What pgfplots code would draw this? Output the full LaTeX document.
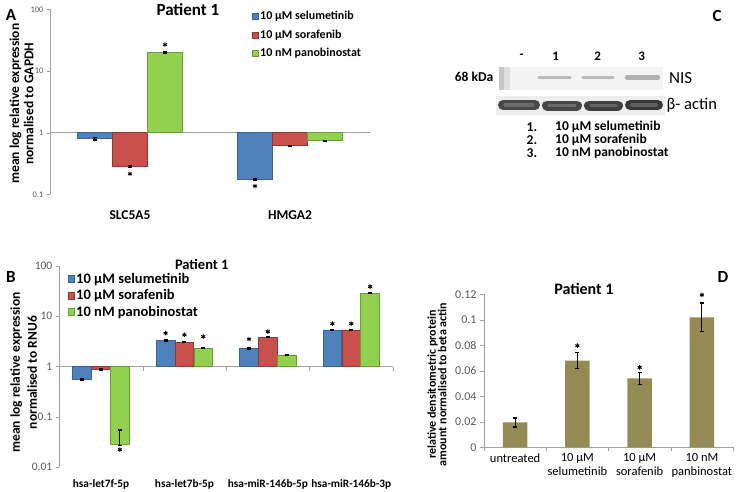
\documentclass[border=0pt]{standalone}
\usepackage{fontspec}
\setmainfont{Carlito}
\usepackage{pgfplots}
\pgfplotsset{compat=1.18}
\definecolor{blueF}{HTML}{4F81BD}
\definecolor{blueD}{HTML}{38629A}
\definecolor{redF}{HTML}{C9504D}
\definecolor{redD}{HTML}{8C3836}
\definecolor{greenF}{HTML}{92D050}
\definecolor{greenD}{HTML}{6A9E36}
\definecolor{oliveF}{HTML}{948A54}
\definecolor{axgray}{HTML}{A0A0A0}
\definecolor{tickgray}{HTML}{595959}
\pgfplotsset{
  errstyle/.style={error bars/.cd, y dir=both, y explicit,
    error bar style={black, line width=1pt},
    error mark options={black, rotate=90, mark size=2pt, line width=1.2pt}},
  stars/.style={only marks, mark=asterisk, mark size=2.3pt, line width=0.9pt, black, forget plot},
}
\begin{document}
\begin{tikzpicture}
\path[use as bounding box] (0,0) rectangle (742pt,491pt);

% ---------- overlay: panel letters and western blot (panel C) ----------
\begin{axis}[at={(0pt,0pt)}, anchor=south west, width=742pt, height=491pt, scale only axis,
  xmin=0, xmax=742, ymin=0, ymax=491, y dir=reverse, hide axis, clip=false]
\node[font=\bfseries\fontsize{17}{18}\selectfont] at (axis cs:11,15) {A};
\node[font=\bfseries\fontsize{17}{18}\selectfont] at (axis cs:11,277) {B};
\node[font=\bfseries\fontsize{17}{18}\selectfont] at (axis cs:717,16) {C};
\node[font=\bfseries\fontsize{17}{18}\selectfont] at (axis cs:723,277) {D};
% NIS blot
\addplot[fill=gray!9, draw=none, forget plot] coordinates {(499,67) (663,67) (663,90) (499,90)} -- cycle;
\addplot[fill=gray!45, draw=none, forget plot] coordinates {(499,67) (504,67) (504,90) (499,90)} -- cycle;
\addplot[fill=gray!25, draw=none, forget plot] coordinates {(504,67) (510,67) (510,90) (504,90)} -- cycle;
\addplot[line width=3.2pt, line cap=round, color=gray!55, forget plot] coordinates {(539,77.5) (570,77.5)};
\addplot[line width=3.2pt, line cap=round, color=gray!55, forget plot] coordinates {(583,77.5) (613,77.5)};
\addplot[line width=4.5pt, line cap=round, color=gray!62, forget plot] coordinates {(627,77.5) (658,77.5)};
% actin blot
\addplot[fill=gray!14, draw=none, forget plot] coordinates {(496,96) (665,96) (665,115) (496,115)} -- cycle;
\addplot[line width=10pt, line cap=round, color=black!72, forget plot] coordinates {(503,105) (535,105)};
\addplot[line width=10pt, line cap=round, color=black!72, forget plot] coordinates {(547,105.5) (577,105.5)};
\addplot[line width=10pt, line cap=round, color=black!75, forget plot] coordinates {(589,105.5) (618,105.5)};
\addplot[line width=10pt, line cap=round, color=black!78, forget plot] coordinates {(630,105) (658,105)};
\addplot[line width=3.5pt, line cap=round, color=black!58, forget plot] coordinates {(505,105) (533,105)};
\addplot[line width=3.5pt, line cap=round, color=black!58, forget plot] coordinates {(549,105.5) (575,105.5)};
\addplot[line width=3.5pt, line cap=round, color=black!60, forget plot] coordinates {(591,105.5) (616,105.5)};
\addplot[line width=3.5pt, line cap=round, color=black!62, forget plot] coordinates {(632,105) (656,105)};
\node[font=\bfseries\fontsize{13}{14}\selectfont] at (axis cs:521.7,56.7) {-};
\node[font=\bfseries\fontsize{13}{14}\selectfont] at (axis cs:555.7,56.7) {1};
\node[font=\bfseries\fontsize{13}{14}\selectfont] at (axis cs:597.7,56.7) {2};
\node[font=\bfseries\fontsize{13}{14}\selectfont] at (axis cs:641.7,56.7) {3};
\node[font=\bfseries\fontsize{13.5}{14}\selectfont] at (axis cs:474,77) {68 kDa};
\node[font=\fontsize{17}{18}\selectfont, anchor=west, inner sep=0pt] at (axis cs:669,78) {NIS};
\node[font=\fontsize{16.5}{18}\selectfont, anchor=west, inner sep=0pt] at (axis cs:666.5,105) {β- actin};
\node[font=\bfseries\fontsize{13.5}{14}\selectfont, anchor=west, inner sep=0pt] at (axis cs:526.5,126.7) {1.};
\node[font=\bfseries\fontsize{13.5}{14}\selectfont, anchor=west, inner sep=0pt] at (axis cs:526.5,139.7) {2.};
\node[font=\bfseries\fontsize{13.5}{14}\selectfont, anchor=west, inner sep=0pt] at (axis cs:526.5,153.3) {3.};
\node[font=\bfseries\fontsize{13.5}{14}\selectfont, anchor=west, inner sep=0pt] at (axis cs:555,126.7) {10 µM selumetinib};
\node[font=\bfseries\fontsize{13.5}{14}\selectfont, anchor=west, inner sep=0pt] at (axis cs:555,139.7) {10 µM sorafenib};
\node[font=\bfseries\fontsize{13.5}{14}\selectfont, anchor=west, inner sep=0pt] at (axis cs:555,153.3) {10 nM panobinostat};
\end{axis}

% ---------- Panel A ----------
\begin{axis}[at={(50pt,296.7pt)}, anchor=south west, width=320pt, height=185pt, scale only axis,
  ymode=log, ymin=0.1, ymax=100, log origin y=0, yminorticks=false,
  xmin=-0.5, xmax=1.5, clip=false,
  axis y line*=left, axis x line*=bottom, axis line style={-, axgray}, x axis line style={draw=none},
  ytick={0.1,1,10,100}, yticklabels={0.1,1,10,100},
  yticklabel style={font=\fontsize{8.5}{9}\selectfont, text=tickgray},
  tick align=outside, major tick length=3pt, ytick style={axgray},
  xtick={0,1}, xticklabels={SLC5A5,HMGA2}, xtick style={draw=none},
  xticklabel style={font=\bfseries\fontsize{13.5}{15}\selectfont, anchor=center, yshift=-18pt},
  ylabel={mean log relative expression\\normalised to GAPDH},
  ylabel style={font=\bfseries\fontsize{13.5}{14.4}\selectfont, align=center, at={(axis description cs:-0.089,0.49)}, anchor=center},
  title={Patient 1}, title style={font=\bfseries\fontsize{17}{18}\selectfont, at={(axis description cs:0.431,0.964)}, anchor=center},
  legend style={at={(axis description cs:0.63,1.0)}, anchor=north west, draw=none, fill=none,
    font=\bfseries\fontsize{12}{13}\selectfont, row sep=4.5pt, inner sep=0pt, cells={anchor=west}},
]
\addplot[axgray, forget plot] coordinates {(-0.5,1) (1.5,1)};
\addplot[ybar, bar width=0.219, fill=blueF, draw=blueD, line width=0.8pt, forget plot, errstyle]
  coordinates {(-0.219,0.80) +- (0,0.04) (0.781,0.175) +- (0,0.005)};
\addplot[ybar, bar width=0.219, fill=redF, draw=redD, line width=0.8pt, forget plot, errstyle]
  coordinates {(0,0.28) +- (0,0.012) (1,0.61) +- (0,0.01)};
\addplot[ybar, bar width=0.219, fill=greenF, draw=greenD, line width=0.8pt, forget plot, errstyle]
  coordinates {(0.219,20.2) +- (0,0.6) (1.219,0.74) +- (0,0.012)};
\addplot[stars] coordinates {(0,0.215) (0.219,26.7) (0.781,0.136)};
\addlegendimage{legend image code/.code={\draw[fill=blueF,draw=blueD] (0pt,-3pt) rectangle (6pt,3pt);}}
\addlegendentry{10 µM selumetinib}
\addlegendimage{legend image code/.code={\draw[fill=redF,draw=redD] (0pt,-3pt) rectangle (6pt,3pt);}}
\addlegendentry{10 µM sorafenib}
\addlegendimage{legend image code/.code={\draw[fill=greenF,draw=greenD] (0pt,-3pt) rectangle (6pt,3pt);}}
\addlegendentry{10 nM panobinostat}
\end{axis}

% ---------- Panel B ----------
\begin{axis}[at={(59.3pt,23.7pt)}, anchor=south west, width=333.7pt, height=201.6pt, scale only axis,
  ymode=log, ymin=0.01, ymax=100, log origin y=0, yminorticks=false,
  xmin=-0.5, xmax=3.5, clip=false,
  axis y line*=left, axis x line*=bottom, axis line style={-, axgray}, x axis line style={draw=none},
  ytick={0.01,0.1,1,10,100}, yticklabels={0.01,0.1,1,10,100},
  yticklabel style={font=\fontsize{11.5}{12}\selectfont, text=tickgray},
  tick align=outside, major tick length=3.5pt, ytick style={axgray},
  xtick={0,1,2,3}, xticklabels={hsa-let7f-5p,hsa-let7b-5p,hsa-miR-146b-5p,hsa-miR-146b-3p}, xtick style={draw=none},
  xticklabel style={font=\bfseries\fontsize{11.3}{13}\selectfont, anchor=center, yshift=-13.4pt},
  ylabel={mean log relative expression\\normalised to RNU6},
  ylabel style={font=\bfseries\fontsize{13.5}{17}\selectfont, align=center, at={(axis description cs:-0.107,0.47)}, anchor=center},
  title={Patient 1}, title style={font=\bfseries\fontsize{14.5}{16}\selectfont, at={(axis description cs:0.427,0.977)}, anchor=center},
  legend style={at={(axis description cs:0.025,0.975)}, anchor=north west, draw=none, fill=none,
    font=\bfseries\fontsize{14.5}{15}\selectfont, row sep=1pt, inner sep=0pt, cells={anchor=west}},
]
\addplot[axgray, forget plot] coordinates {(-0.5,1) (3.5,1)};
\addplot[axgray, forget plot] coordinates {(0.5,1) (0.5,0.83)};
\addplot[axgray, forget plot] coordinates {(1.5,1) (1.5,0.83)};
\addplot[axgray, forget plot] coordinates {(2.5,1) (2.5,0.83)};
\addplot[axgray, forget plot] coordinates {(3.5,1) (3.5,0.83)};
\addplot[ybar, bar width=0.224, fill=blueF, draw=blueD, line width=0.7pt, forget plot, errstyle]
  coordinates {(-0.226,0.545) +- (0,0.02) (0.774,3.27) +- (0,0.08) (1.774,2.25) +- (0,0.07) (2.774,5.3) +- (0,0.15)};
\addplot[ybar, bar width=0.224, fill=redF, draw=redD, line width=0.7pt, forget plot, errstyle]
  coordinates {(0,0.86) +- (0,0.03) (1,3.04) +- (0,0.05) (2,3.82) +- (0,0.08) (3,5.3) +- (0,0.15)};
\addplot[ybar, bar width=0.224, fill=greenF, draw=greenD, line width=0.7pt, forget plot, errstyle]
  coordinates {(0.226,0.028) += (0,0.027) -= (0,0.001) (1.226,2.31) +- (0,0.05) (2.226,1.7) +- (0,0.03) (3.226,28.4) +- (0,0.5)};
\addplot[stars] coordinates {(0.226,0.0224) (0.774,4.58) (1,4.25) (1.226,3.93) (1.774,3.49) (2,4.93) (2.774,7.1) (3,7.1) (3.226,38.4)};
\addlegendimage{legend image code/.code={\draw[fill=blueF,draw=blueD] (0pt,-3.5pt) rectangle (6pt,3.5pt);}}
\addlegendentry{10 µM selumetinib}
\addlegendimage{legend image code/.code={\draw[fill=redF,draw=redD] (0pt,-3.5pt) rectangle (6pt,3.5pt);}}
\addlegendentry{10 µM sorafenib}
\addlegendimage{legend image code/.code={\draw[fill=greenF,draw=greenD] (0pt,-3.5pt) rectangle (6pt,3.5pt);}}
\addlegendentry{10 nM panobinostat}
\end{axis}

% ---------- Panel D ----------
\begin{axis}[at={(484pt,43.7pt)}, anchor=south west, width=249pt, height=153pt, scale only axis,
  ymin=0, ymax=0.12, xmin=-0.5, xmax=3.5, clip=false,
  axis y line*=left, axis x line*=bottom, axis line style={-, axgray},
  ytick={0,0.02,0.04,0.06,0.08,0.1,0.12}, yticklabels={0,0.02,0.04,0.06,0.08,0.1,0.12},
  yticklabel style={font=\fontsize{12}{12}\selectfont, text=tickgray},
  tick align=outside, major tick length=4pt, tick style={axgray},
  xtick={-0.5,0.5,1.5,2.5,3.5}, xticklabels={},
  extra x ticks={0,1,2,3}, extra x tick labels={untreated,{10 µM\\selumetinib},{10 µM\\sorafenib},{10 nM\\panbinostat}},
  extra x tick style={major tick length=0pt, xticklabel style={font=\fontsize{12.5}{13.5}\selectfont, align=center, anchor=north, yshift=-3pt}},
  ylabel={relative densitometric protein\\amount normalised to beta actin},
  ylabel style={font=\bfseries\fontsize{12}{10.5}\selectfont, align=center, at={(axis description cs:-0.189,0.41)}, anchor=center},
  title={Patient 1}, title style={font=\bfseries\fontsize{16}{18}\selectfont, at={(axis description cs:0.401,0.995)}, anchor=center},
]
\addplot[ybar, bar width=0.395, fill=oliveF, draw=none, errstyle]
  coordinates {(0,0.0195) +- (0,0.0035) (1,0.068) +- (0,0.0065) (2,0.054) +- (0,0.0045) (3,0.102) +- (0,0.0112)};
\addplot[stars] coordinates {(1,0.0797) (2,0.0627) (3,0.1195)};
\end{axis}
\end{tikzpicture}
\end{document}
